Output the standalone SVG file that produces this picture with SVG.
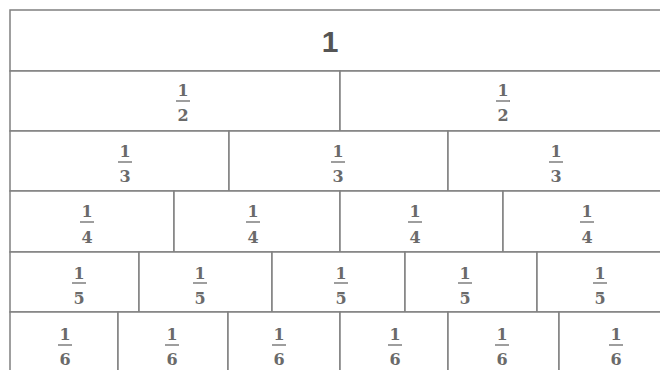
<svg xmlns="http://www.w3.org/2000/svg" width="660" height="370" viewBox="0 0 660 370">
<style>
.c{fill:#ffffff;stroke:#808080;stroke-width:1.5}
.n{font-family:"DejaVu Serif","Liberation Serif",serif;font-weight:bold;font-size:16px;fill:#6a6a6a;text-anchor:middle}
.b{stroke:#6a6a6a;stroke-width:1.3}
.w{font-family:"Liberation Sans","DejaVu Sans",sans-serif;font-weight:bold;font-size:30px;fill:#555555;text-anchor:middle}
</style>
<rect width="660" height="370" fill="#ffffff"/>
<g id="whole"><rect class="c" x="10" y="10" width="660" height="61"/><text class="w" x="330" y="52">1</text></g>
<g id="half-1"><rect class="c" x="10" y="71" width="330" height="60"/><text class="n" x="183" y="96">1</text><line class="b" x1="176" y1="101" x2="190" y2="101"/><text class="n" x="183" y="121">2</text></g>
<g id="half-2"><rect class="c" x="340" y="71" width="330" height="60"/><text class="n" x="503" y="96">1</text><line class="b" x1="496" y1="101" x2="510" y2="101"/><text class="n" x="503" y="121">2</text></g>
<g id="third-1"><rect class="c" x="10" y="131" width="219" height="60"/><text class="n" x="125" y="157">1</text><line class="b" x1="118" y1="162" x2="132" y2="162"/><text class="n" x="125" y="182">3</text></g>
<g id="third-2"><rect class="c" x="229" y="131" width="219" height="60"/><text class="n" x="338" y="157">1</text><line class="b" x1="331" y1="162" x2="345" y2="162"/><text class="n" x="338" y="182">3</text></g>
<g id="third-3"><rect class="c" x="448" y="131" width="222" height="60"/><text class="n" x="556" y="157">1</text><line class="b" x1="549" y1="162" x2="563" y2="162"/><text class="n" x="556" y="182">3</text></g>
<g id="quarter-1"><rect class="c" x="10" y="191" width="164" height="61"/><text class="n" x="87" y="217">1</text><line class="b" x1="80" y1="222" x2="94" y2="222"/><text class="n" x="87" y="243">4</text></g>
<g id="quarter-2"><rect class="c" x="174" y="191" width="166" height="61"/><text class="n" x="253" y="217">1</text><line class="b" x1="246" y1="222" x2="260" y2="222"/><text class="n" x="253" y="243">4</text></g>
<g id="quarter-3"><rect class="c" x="340" y="191" width="163" height="61"/><text class="n" x="415" y="217">1</text><line class="b" x1="408" y1="222" x2="422" y2="222"/><text class="n" x="415" y="243">4</text></g>
<g id="quarter-4"><rect class="c" x="503" y="191" width="167" height="61"/><text class="n" x="587" y="217">1</text><line class="b" x1="580" y1="222" x2="594" y2="222"/><text class="n" x="587" y="243">4</text></g>
<g id="fifth-1"><rect class="c" x="10" y="252" width="129" height="60"/><text class="n" x="79" y="279">1</text><line class="b" x1="72" y1="283" x2="86" y2="283"/><text class="n" x="79" y="304">5</text></g>
<g id="fifth-2"><rect class="c" x="139" y="252" width="133" height="60"/><text class="n" x="200" y="279">1</text><line class="b" x1="193" y1="283" x2="207" y2="283"/><text class="n" x="200" y="304">5</text></g>
<g id="fifth-3"><rect class="c" x="272" y="252" width="133" height="60"/><text class="n" x="341" y="279">1</text><line class="b" x1="334" y1="283" x2="348" y2="283"/><text class="n" x="341" y="304">5</text></g>
<g id="fifth-4"><rect class="c" x="405" y="252" width="132" height="60"/><text class="n" x="465" y="279">1</text><line class="b" x1="458" y1="283" x2="472" y2="283"/><text class="n" x="465" y="304">5</text></g>
<g id="fifth-5"><rect class="c" x="537" y="252" width="133" height="60"/><text class="n" x="600" y="279">1</text><line class="b" x1="593" y1="283" x2="607" y2="283"/><text class="n" x="600" y="304">5</text></g>
<g id="sixth-1"><rect class="c" x="10" y="312" width="108" height="62"/><text class="n" x="65" y="340">1</text><line class="b" x1="58" y1="345" x2="72" y2="345"/><text class="n" x="65" y="365">6</text></g>
<g id="sixth-2"><rect class="c" x="118" y="312" width="110" height="62"/><text class="n" x="172" y="340">1</text><line class="b" x1="165" y1="345" x2="179" y2="345"/><text class="n" x="172" y="365">6</text></g>
<g id="sixth-3"><rect class="c" x="228" y="312" width="112" height="62"/><text class="n" x="279" y="340">1</text><line class="b" x1="272" y1="345" x2="286" y2="345"/><text class="n" x="279" y="365">6</text></g>
<g id="sixth-4"><rect class="c" x="340" y="312" width="108" height="62"/><text class="n" x="395" y="340">1</text><line class="b" x1="388" y1="345" x2="402" y2="345"/><text class="n" x="395" y="365">6</text></g>
<g id="sixth-5"><rect class="c" x="448" y="312" width="111" height="62"/><text class="n" x="502" y="340">1</text><line class="b" x1="495" y1="345" x2="509" y2="345"/><text class="n" x="502" y="365">6</text></g>
<g id="sixth-6"><rect class="c" x="559" y="312" width="111" height="62"/><text class="n" x="616" y="340">1</text><line class="b" x1="609" y1="345" x2="623" y2="345"/><text class="n" x="616" y="365">6</text></g>
<g id="connectors"/>
</svg>
